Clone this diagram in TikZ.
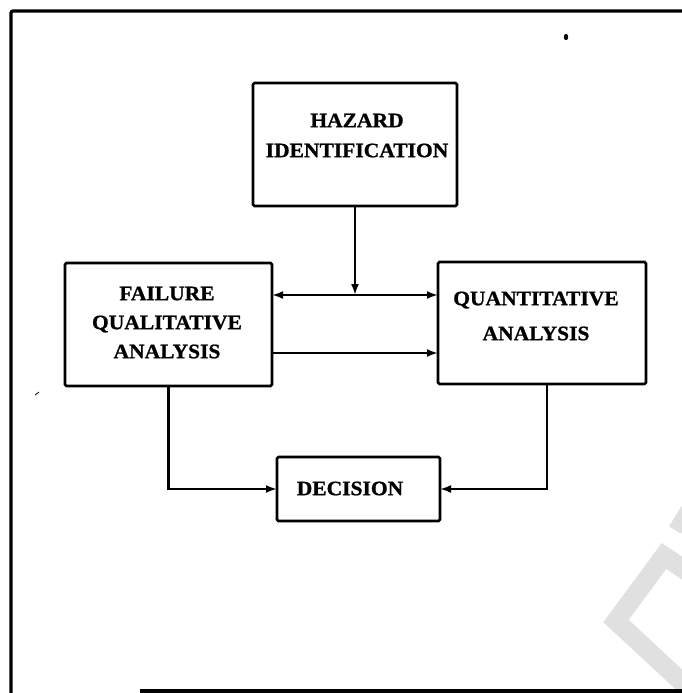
\documentclass[tikz,border=0pt]{standalone}
\usepackage{fontspec}
\setmainfont{Liberation Serif}[FakeStretch=1.05, BoldFeatures={FakeBold=1}]
\usetikzlibrary{arrows.meta}
\definecolor{stampgray}{HTML}{E0E0E0}
\begin{document}
\begin{tikzpicture}[x=1pt,y=-1pt,
  box/.style={draw, line width=2.8pt, rectangle, inner sep=0pt, outer sep=0pt, rounded corners=1.5pt},
  boxtext/.style={align=center, inner sep=0pt, font=\bfseries\fontsize{20.5}{#1}\selectfont},
  link/.style={line width=2.6pt},
  tip/.style={-{Latex[length=11pt,width=8pt]}},
  tips/.style={{Latex[length=11pt,width=8pt]}-{Latex[length=11pt,width=8pt]}}]
\useasboundingbox (0,0) rectangle (682,693);

% faint stamp in the lower right corner
\begin{scope}
  \clip (0,0) rectangle (682,693);
  \draw[stampgray, line width=19pt, line join=miter]
    (700,580) -- (664,556) -- (616,621) -- (700,699);
  \draw[stampgray, line width=14pt] (675,530) -- (700,490);
\end{scope}

% page frame
\draw[line width=3.2pt, rounded corners=2pt] (11,700) -- (11,11) -- (690,11);
\draw[line width=3.2pt] (140,691) -- (690,691);
\fill (566,37) ellipse (2.2pt and 3.2pt);
\draw[line width=0.8pt] (35,395) -- (39,392);

% boxes
\node[box, minimum width=204pt, minimum height=123pt] (hazard)   at (355,144.5) {};
\node[box, minimum width=207pt, minimum height=123pt] (failure)  at (168.5,324.5) {};
\node[box, minimum width=208pt, minimum height=122pt] (quant)    at (542,323) {};
\node[box, minimum width=163pt, minimum height=64pt]  (decision) at (358.5,489) {};

% box labels
\node[boxtext=30] (hazardtxt)   at (357,135.5) {HAZARD\\IDENTIFICATION};
\node[boxtext=29] (failuretxt)  at (167,322.5) {FAILURE\\QUALITATIVE\\ANALYSIS};
\node[boxtext=35] (quanttxt)    at (536,316)   {QUANTITATIVE\\ANALYSIS};
\node[boxtext=24] (decisiontxt) at (350,488.5) {DECISION};

% connectors
\coordinate (upper) at (355,295);
\coordinate (lower) at (355,353);
\coordinate (qdrop) at ([xshift=5pt]quant.south);

\draw[link, tips] (failure.east |- upper) -- (quant.west |- upper);
\draw[link, tip]  (hazard.south) -- (upper);
\draw[link, tip]  (failure.east |- lower) -- (quant.west |- lower);
\draw[link, tip]  (failure.south) |- (decision.west);
\draw[link, tip]  (qdrop) |- (decision.east);
\end{tikzpicture}
\end{document}
